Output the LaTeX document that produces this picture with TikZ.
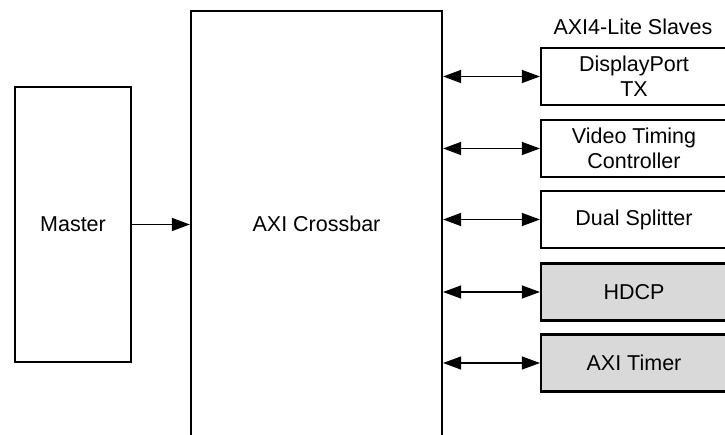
\documentclass[tikz,border=0pt]{standalone}
\usepackage{fontspec}
\setmainfont{Liberation Sans}
\usetikzlibrary{arrows.meta}
\begin{document}
\begin{tikzpicture}[x=1pt,y=-1pt,
  blk/.style={draw=black,line width=2.2pt,rectangle,inner sep=0pt,align=center,
    font=\fontsize{21.5}{25}\selectfont},
  slave/.style={blk,minimum width=186pt,minimum height=57pt},
  gslave/.style={slave,fill=gray!30},
  link/.style={line width=1.2pt,{Triangle[length=18pt,width=13pt]}-{Triangle[length=18pt,width=13pt]}},
  fwd/.style={line width=1.2pt,-{Triangle[length=18pt,width=13pt]}}]
\path[use as bounding box] (0,0) rectangle (725,435);
\clip (0,0) rectangle (725,435);
\node[blk,minimum width=116pt,minimum height=275pt] (m) at (73,224.5) {Master};
\node[blk,minimum width=251pt,minimum height=426pt] (cb) at (316.5,224) {AXI Crossbar};
\node[slave] (s1) at (634,76.5) {DisplayPort\\TX};
\node[slave] (s2) at (634,148.5) {Video Timing\\Controller};
\node[slave] (s3) at (634,219.5) {Dual Splitter};
\node[gslave] (s4) at (634,292) {HDCP};
\node[gslave] (s5) at (634,363) {AXI Timer};
\node[font=\fontsize{21.5}{25}\selectfont,anchor=base,inner sep=0pt] (hd) at (633,34.5) {AXI4-Lite Slaves};
\draw[fwd] (m.east) -- (m.east -| cb.west);
\foreach \s in {s1,s2,s3,s4,s5}
  \draw[link] (cb.east |- \s.west) -- (\s.west);
\end{tikzpicture}
\end{document}
